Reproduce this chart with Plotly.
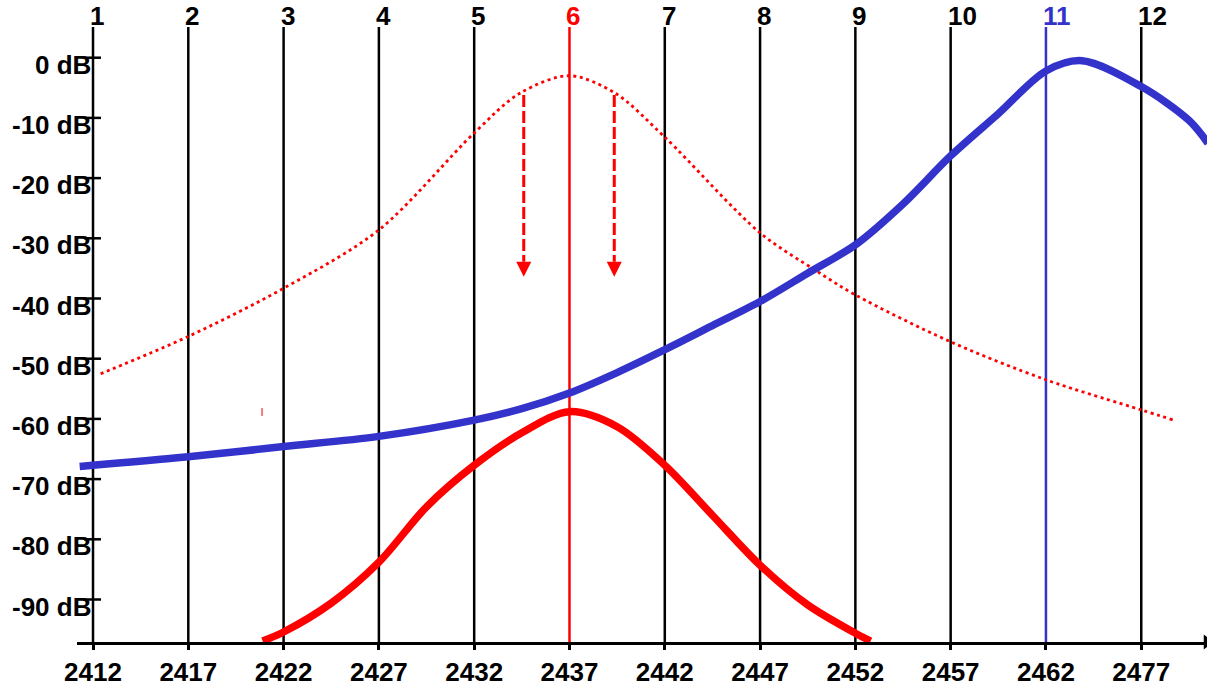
import plotly.graph_objects as go

# ---------------- data ----------------
channels = ["1", "2", "3", "4", "5", "6", "7", "8", "9", "10", "11", "12"]
chan_freq = [2412, 2417, 2422, 2427, 2432, 2437, 2442, 2447, 2452, 2457, 2462, 2467]
freq_labels = ["2412", "2417", "2422", "2427", "2432", "2437", "2442",
               "2447", "2452", "2457", "2462", "2477"]

db_ticks = [0, -10, -20, -30, -40, -50, -60, -70, -80, -90]
db_labels = ["0 dB", "-10 dB", "-20 dB", "-30 dB", "-40 dB",
             "-50 dB", "-60 dB", "-70 dB", "-80 dB", "-90 dB"]

# channel 11 signal (blue, thick)
blue_x = [2411.3, 2417.0, 2422.0, 2427.0, 2432.0, 2434.5, 2437.0, 2439.5,
          2442.0, 2444.5, 2447.0, 2449.5, 2452.0, 2454.5, 2457.0, 2459.5,
          2462.0, 2463.9, 2467.0, 2469.5, 2470.5]
blue_y = [-67.9, -66.3, -64.6, -62.9, -60.2, -58.3, -55.7, -52.3,
          -48.5, -44.5, -40.5, -35.8, -31.1, -24.3, -16.3, -9.3,
          -2.2, -0.5, -4.8, -10.4, -14.2]

# channel 6 signal after filtering (red, thick)
red_x = [2420.9, 2422.0, 2424.5, 2427.0, 2429.5, 2432.0, 2434.5, 2437.0,
         2439.5, 2442.0, 2444.5, 2447.0, 2449.5, 2452.0, 2452.8]
red_y = [-96.9, -95.4, -90.6, -83.8, -74.6, -67.7, -62.3, -58.8,
         -61.3, -67.7, -76.0, -84.3, -90.9, -95.6, -96.9]

# channel 6 unfiltered signal (red, dotted)
dot_x = [2412.4, 2417.0, 2422.0, 2427.0, 2432.0, 2434.4, 2437.0,
         2439.4, 2442.0, 2447.0, 2449.9, 2452.0, 2457.0, 2462.0,
         2467.0, 2468.7]
dot_y = [-52.5, -46.3, -38.3, -28.6, -12.5, -5.9, -3.0,
         -5.9, -13.2, -29.1, -35.3, -39.4, -47.2, -53.5,
         -58.5, -60.2]

# attenuation arrows
arrow_x = [2434.6, 2439.35]
arrow_top = -6.2
arrow_base = -33.9
arrow_tip = -36.4

# small stray mark
mark_x = 2420.87
mark_y = [-58.2, -59.5]

x_range = [2411.16, 2470.45]
y_range = [-97.06, 5.10]

# ---------------- style ----------------
FONT = "Liberation Sans, Arial, sans-serif"
RED = "#ff0000"
BLUE = "#3333cc"
chan_color = {"6": RED, "11": BLUE}
FS = 26

fig = go.Figure()

shapes = []
annotations = []

# channel vertical lines + labels
for ch, f in zip(channels, chan_freq):
    c = chan_color.get(ch, "black")
    shapes.append(dict(type="line", xref="x", yref="paper", x0=f, x1=f, y0=0, y1=1,
                       line=dict(color=c, width=2.5), layer="below"))
    annotations.append(dict(x=f, y=1, xref="x", yref="paper", text=ch, showarrow=False,
                            xanchor="left", yanchor="bottom", xshift=-5, yshift=-6,
                            font=dict(family=FONT, size=FS, color=c, weight="bold")))

# y ticks and labels
for v, lab in zip(db_ticks, db_labels):
    shapes.append(dict(type="line", xref="x", yref="y", xsizemode="pixel", xanchor=chan_freq[0],
                       x0=-9, x1=8, y0=v, y1=v, line=dict(color="black", width=2.5)))
    annotations.append(dict(x=chan_freq[0], y=v, xref="x", yref="y", text=lab, showarrow=False,
                            xanchor="right", yanchor="middle", xshift=0, yshift=-7,
                            font=dict(family=FONT, size=FS, color="black", weight="bold")))

# stray mark
shapes.append(dict(type="line", xref="x", yref="y", x0=mark_x, x1=mark_x,
                   y0=mark_y[0], y1=mark_y[1], line=dict(color="#f37b7b", width=2)))

# arrow heads
for ax in arrow_x:
    shapes.append(dict(type="path", xref="x", yref="y", xsizemode="pixel", ysizemode="pixel",
                       xanchor=ax, yanchor=arrow_tip, path="M -7.5,15 L 7.5,15 L 0,0 Z",
                       fillcolor=RED, line=dict(color=RED, width=0)))

# curves
fig.add_trace(go.Scatter(x=dot_x, y=dot_y, mode="lines", line_shape="spline",
                         line=dict(color=RED, width=2.8, dash="3px,3.6px", smoothing=0.9),
                         hoverinfo="skip"))
fig.add_trace(go.Scatter(x=blue_x, y=blue_y, mode="lines", line_shape="spline",
                         line=dict(color=BLUE, width=7.5, smoothing=0.9), hoverinfo="skip"))
fig.add_trace(go.Scatter(x=red_x, y=red_y, mode="lines", line_shape="spline",
                         line=dict(color=RED, width=7.5, smoothing=0.9), hoverinfo="skip"))
for ax in arrow_x:
    fig.add_trace(go.Scatter(x=[ax, ax], y=[arrow_top, arrow_base], mode="lines",
                             line=dict(color=RED, width=3, dash="12px,4px"), hoverinfo="skip"))

# x-axis arrow head
fig.add_trace(go.Scatter(x=[x_range[1]], y=[y_range[0]], mode="markers", cliponaxis=False,
                         marker=dict(symbol="triangle-right", size=13, color="black"),
                         hoverinfo="skip"))

fig.update_layout(
    width=1207, height=686,
    margin=dict(l=77, r=0, t=27, b=44),
    paper_bgcolor="white", plot_bgcolor="white",
    showlegend=False,
    shapes=shapes, annotations=annotations,
    xaxis=dict(range=x_range, tickvals=chan_freq, ticktext=freq_labels,
               showgrid=False, zeroline=False, showline=True, linecolor="black", linewidth=2.5,
               ticks="outside", ticklen=5, tickwidth=2.5, tickcolor="black",
               tickfont=dict(family=FONT, size=FS, color="black", weight="bold"),
               fixedrange=True),
    yaxis=dict(range=y_range, visible=False, showgrid=False, zeroline=False, fixedrange=True),
)

fig.write_html("out.html", config={"displayModeBar": False},
               post_script="document.body.style.margin='0';")
